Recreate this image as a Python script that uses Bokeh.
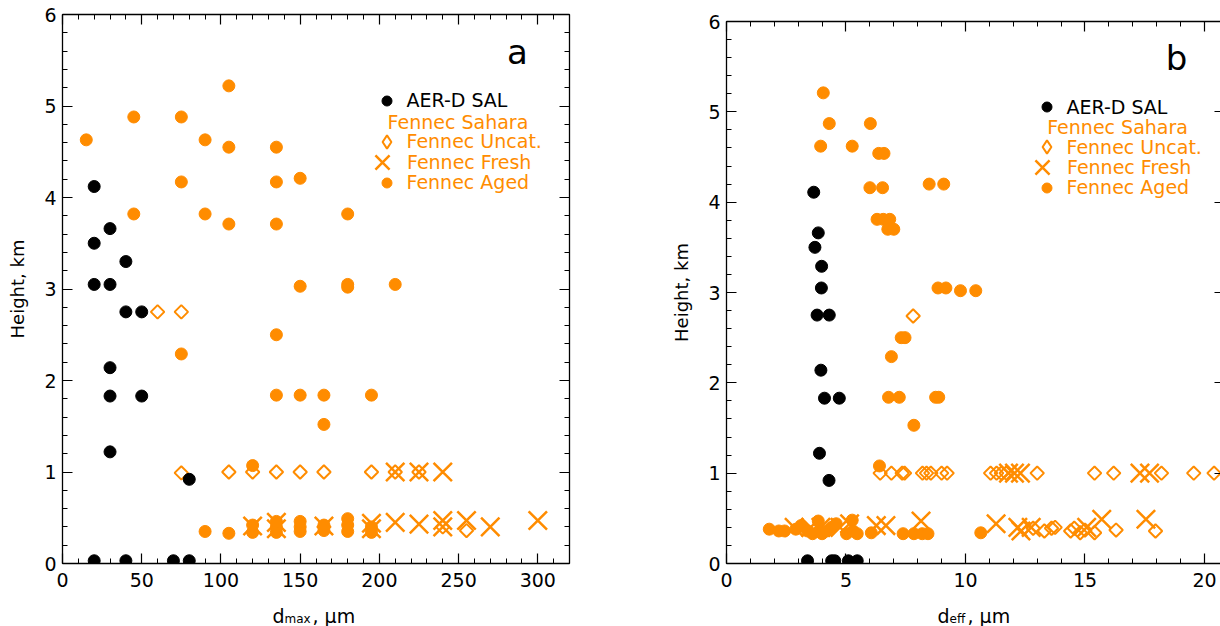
import math
from bokeh.plotting import figure
from bokeh.layouts import row, column
from bokeh.models import (LinearAxis, SingleIntervalTicker, Range1d, Legend,
                          LegendItem, Label, ColumnDataSource)
from bokeh.embed import file_html
from bokeh.resources import INLINE

ORANGE = "#FF8C00"
FONT = "DejaVu Sans"

# ---------------- Panel a : d_max ----------------
sal_dmax = [20, 30, 20, 40, 20, 30, 40, 50, 30, 30, 50, 30, 80, 20, 40, 70, 80]
sal_height_a = [4.12, 3.66, 3.50, 3.30, 3.05, 3.05, 2.75, 2.75, 2.14, 1.83, 1.83,
                1.22, 0.92, 0.03, 0.03, 0.03, 0.03]

uncat_dmax = [60, 75, 75, 105, 120, 135, 150, 165, 195, 210, 225, 165, 240, 255]
uncat_height_a = [2.75, 2.75, 0.99, 1.0, 1.0, 1.0, 1.0, 1.0, 1.0, 1.0, 1.0,
                  0.40, 0.40, 0.36]

fresh_dmax = [210, 225, 240, 120, 135, 135, 165, 195, 195, 210, 225, 240, 240,
              255, 270, 300]
fresh_height_a = [1.0, 1.0, 1.0, 0.41, 0.38, 0.45, 0.41, 0.38, 0.44, 0.45, 0.43,
                  0.40, 0.47, 0.47, 0.40, 0.47]

aged_dmax = [15, 45, 75, 105, 90, 105, 135, 75, 135, 150,
             45, 90, 105, 135, 180, 150, 180, 180, 210, 135,
             75, 135, 150, 165, 195, 165, 120, 90, 105, 120,
             120, 135, 135, 135, 150, 150, 150, 165, 165, 180,
             180, 180, 195, 195]
aged_height_a = [4.63, 4.88, 4.88, 5.22, 4.63, 4.55, 4.55, 4.17, 4.17, 4.21,
                 3.82, 3.82, 3.71, 3.71, 3.82, 3.03, 3.05, 3.02, 3.05, 2.50,
                 2.29, 1.84, 1.84, 1.84, 1.84, 1.52, 1.07, 0.35, 0.33, 0.34,
                 0.42, 0.34, 0.40, 0.46, 0.35, 0.40, 0.46, 0.36, 0.42, 0.35,
                 0.42, 0.49, 0.34, 0.40]

# ---------------- Panel b : d_eff ----------------
sal_deff = [3.65, 3.84, 3.70, 3.98, 3.97, 3.79, 4.30, 3.95, 4.10, 4.72, 3.89,
            4.29, 3.39, 4.40, 4.53, 5.10, 5.47]
sal_height_b = [4.11, 3.66, 3.50, 3.29, 3.05, 2.75, 2.75, 2.14, 1.83, 1.83, 1.22,
                0.92, 0.03, 0.03, 0.03, 0.03, 0.03]

uncat_deff = [7.81, 6.43, 6.90, 7.35, 7.45, 8.20, 8.37, 8.55, 9.00, 9.23,
              11.05, 11.30, 11.50, 11.70, 13.00, 15.40, 16.20, 18.20, 19.55, 20.40,
              12.43, 12.83, 13.30, 13.60, 13.75, 14.40, 14.55, 14.80, 15.00, 15.40,
              16.30, 17.95]
uncat_height_b = [2.74, 1.0, 1.0, 1.0, 1.0, 1.0, 1.0, 1.0, 1.0, 1.0,
                  1.0, 1.0, 1.0, 1.0, 1.0, 1.0, 1.0, 1.0, 1.0, 1.0,
                  0.39, 0.39, 0.36, 0.39, 0.40, 0.36, 0.39, 0.34, 0.37, 0.34,
                  0.37, 0.36]

fresh_deff = [11.80, 12.05, 12.30, 17.30, 17.70, 2.83, 3.52, 3.95, 4.75, 5.15,
              6.27, 6.67, 8.14, 11.28, 12.19, 12.32, 12.75, 15.07, 15.70, 17.55]
fresh_height_b = [1.0, 1.0, 1.0, 1.0, 1.0, 0.40, 0.40, 0.40, 0.40, 0.44,
                  0.42, 0.42, 0.47, 0.44, 0.40, 0.36, 0.40, 0.40, 0.49, 0.49]

aged_deff = [4.05, 4.30, 6.02, 3.94, 5.26, 6.37, 6.59, 6.00, 6.53, 8.48,
             9.09, 6.30, 6.56, 6.83, 6.75, 7.00, 8.85, 9.18, 9.79, 10.43,
             7.31, 7.47, 6.90, 6.78, 7.23, 8.75, 8.88, 7.84, 6.40, 1.79,
             2.19, 2.43, 2.90, 3.12, 3.39, 3.60, 3.84, 3.87, 4.00, 4.19,
             4.40, 4.59, 5.02, 5.26, 5.30, 5.47, 6.06, 7.39, 7.84, 8.19,
             8.43, 10.64]
aged_height_b = [5.21, 4.87, 4.87, 4.62, 4.62, 4.54, 4.54, 4.16, 4.16, 4.20,
                 4.20, 3.81, 3.81, 3.81, 3.70, 3.70, 3.05, 3.05, 3.02, 3.02,
                 2.50, 2.50, 2.29, 1.84, 1.84, 1.84, 1.84, 1.53, 1.08, 0.38,
                 0.36, 0.36, 0.38, 0.42, 0.36, 0.33, 0.47, 0.36, 0.33, 0.36,
                 0.40, 0.44, 0.33, 0.48, 0.36, 0.33, 0.34, 0.33, 0.33, 0.33,
                 0.33, 0.34]

legend_labels = ["AER-D SAL", "Fennec Uncat.", "Fennec Fresh", "Fennec Aged"]
legend_title = "Fennec Sahara"
y_title = "Height, km"

PANEL_H = 594      # plot height; the x-axis title strip fills the rest
STRIP_H = 626 - PANEL_H
FRAME_BOTTOM = 563


def style_axis(ax, show_labels, standoff=6):
    ax.axis_line_color = "black"
    ax.axis_line_width = 1.3
    ax.major_tick_in = 10
    ax.major_tick_out = 0
    ax.minor_tick_in = 5
    ax.minor_tick_out = 0
    ax.major_tick_line_color = "black"
    ax.minor_tick_line_color = "black"
    ax.major_tick_line_width = 1.2
    ax.minor_tick_line_width = 1.0
    ax.major_label_text_font = FONT
    if show_labels:
        ax.major_label_text_color = "black"
        ax.major_label_text_font_size = "19px"
        ax.major_label_standoff = standoff
    else:
        ax.major_label_text_color = None
        ax.major_label_text_font_size = "1px"
        ax.major_label_standoff = 0
        ax.axis_label_standoff = 0


def make_panel(width, x_end, x_interval, mb_left, mb_right, mb_top,
               sal, unc, fr, ag, letter, letter_xy, title_xy,
               legend_cx, legend_rows, legend_lx, right_line=True):
    p = figure(width=width, height=PANEL_H, x_range=Range1d(0, x_end),
               y_range=Range1d(0, 6), output_backend="svg", title=None,
               toolbar_location=None, x_axis_type=None, y_axis_type=None,
               min_border_left=mb_left, min_border_right=mb_right,
               min_border_top=mb_top,
               min_border_bottom=PANEL_H - FRAME_BOTTOM)
    p.outline_line_color = None
    p.background_fill_color = "white"
    p.border_fill_color = "white"
    # range used only to give the legend a diamond glyph (points fall outside)
    p.extra_x_ranges = {"legend_only": Range1d(-2, -1)}

    xt = SingleIntervalTicker(interval=x_interval, num_minor_ticks=5)
    yt = SingleIntervalTicker(interval=1, num_minor_ticks=5)

    xb = LinearAxis(ticker=xt)
    style_axis(xb, True, standoff=9)
    p.add_layout(xb, "below")
    xa = LinearAxis(ticker=xt)
    style_axis(xa, False)
    p.add_layout(xa, "above")
    yl = LinearAxis(ticker=yt, axis_label=y_title)
    style_axis(yl, True, standoff=6)
    yl.axis_label_text_font = FONT
    yl.axis_label_text_font_size = "18px"
    yl.axis_label_text_font_style = "normal"
    yl.axis_label_text_color = "black"
    yl.axis_label_standoff = 13
    p.add_layout(yl, "left")
    yr = LinearAxis(ticker=yt)
    style_axis(yr, False)
    if not right_line:
        yr.axis_line_color = None
        yr.minor_tick_line_color = None
        yr.major_tick_in = 6
    p.add_layout(yr, "right")

    unc_src = ColumnDataSource(dict(x=unc[0], y=unc[1]))
    r_unc_leg = p.scatter(x="x", y="y", source=unc_src, marker="diamond",
                          x_range_name="legend_only", fill_color=None,
                          line_color=ORANGE, line_width=2)
    p.scatter(x="x", y="y", source=unc_src, marker="square",
              angle=math.pi / 4, size=9.5, fill_color=None,
              line_color=ORANGE, line_width=2)
    r_fr = p.scatter(x=fr[0], y=fr[1], marker="x", size=26,
                     line_color=ORANGE, line_width=2.5)
    r_ag = p.scatter(x=ag[0], y=ag[1], marker="circle", size=12,
                     fill_color=ORANGE, line_color=ORANGE)
    r_sal = p.scatter(x=sal[0], y=sal[1], marker="circle", size=12,
                      fill_color="black", line_color="black")

    frame_h = FRAME_BOTTOM - mb_top
    entries = [(r_sal, legend_labels[0], "black", 25, 0, legend_rows[0]),
               (r_unc_leg, legend_labels[1], ORANGE, 33, 0, legend_rows[1]),
               (r_fr, legend_labels[2], ORANGE, 50, -4, legend_rows[2]),
               (r_ag, legend_labels[3], ORANGE, 25, 0, legend_rows[3])]
    for rend, lab, col, g, dx, cy in entries:
        cx = legend_cx + dx
        vx = cx - g / 2
        vy = frame_h - (cy + g / 2)
        leg = Legend(items=[LegendItem(label=lab, renderers=[rend])],
                     location=(vx, vy), padding=0, margin=0, spacing=0,
                     glyph_width=g, glyph_height=g,
                     label_standoff=max(0, int(round(legend_lx - (cx + g / 2)))),
                     label_text_font=FONT, label_text_font_size="19px",
                     label_text_color=col, border_line_color=None,
                     background_fill_alpha=0)
        p.add_layout(leg)

    p.add_layout(Label(x=title_xy[0], y=title_xy[1], text=legend_title,
                       text_font=FONT, text_font_size="19px",
                       text_color=ORANGE, text_align="left",
                       text_baseline="middle"))
    p.add_layout(Label(x=letter_xy[0], y=letter_xy[1], text=letter,
                       text_font=FONT, text_font_size="34px",
                       text_color="black", text_align="center",
                       text_baseline="middle"))
    return p


def make_strip(width, left, sub, sub_w):
    s = figure(width=width, height=STRIP_H, x_range=Range1d(0, width),
               y_range=Range1d(0, STRIP_H), output_backend="svg", title=None,
               toolbar_location=None, x_axis_type=None, y_axis_type=None,
               min_border_left=0, min_border_right=0, min_border_top=0,
               min_border_bottom=0)
    s.outline_line_color = None
    base = 11
    s.add_layout(Label(x=left, y=base, text="d", text_font=FONT,
                       text_font_size="19px", text_color="black",
                       text_align="left", text_baseline="alphabetic"))
    s.add_layout(Label(x=left + 12, y=base - 3, text=sub,
                       text_font=FONT, text_font_size="12px",
                       text_color="black", text_align="left",
                       text_baseline="alphabetic"))
    s.add_layout(Label(x=left + 12 + sub_w, y=base, text=", \u03bcm",
                       text_font=FONT, text_font_size="19px",
                       text_color="black", text_align="left",
                       text_baseline="alphabetic"))
    return s


pa = make_panel(640, 320, 50, 62, 71, 14,
                (sal_dmax, sal_height_a), (uncat_dmax, uncat_height_a),
                (fresh_dmax, fresh_height_a), (aged_dmax, aged_height_a),
                "a", (287.2, 5.585), (205.2, 4.825),
                324, [86, 127, 147.5, 168], 344)
pb = make_panel(580, 20.67, 5, 86, 0, 21,
                (sal_deff, sal_height_b), (uncat_deff, uncat_height_b),
                (fresh_deff, fresh_height_b), (aged_deff, aged_height_b),
                "b", (18.83, 5.60), (13.42, 4.83),
                320, [85.7, 125.5, 145.8, 166], 340, right_line=False)
sa = make_strip(640, 272, "max", 28)
sb = make_strip(580, 297, "eff", 18)

# nesting each panel in its own column keeps their frames independent
layout = column(row(column(pa), column(pb)), row(sa, sb))
open("out.html", "w").write(file_html(layout, INLINE))
